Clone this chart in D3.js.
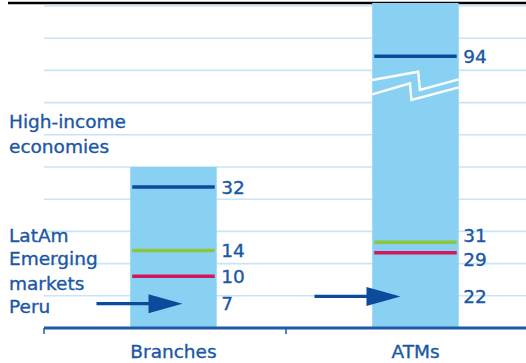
<!DOCTYPE html>
<html><head><meta charset="utf-8">
<script src="https://cdn.jsdelivr.net/npm/d3@7"></script>
<style>body{margin:0;background:#fff;} svg{display:block;font-family:"DejaVu Sans",sans-serif;} svg text{stroke:#1b57a6;stroke-width:0.35px;}</style>
</head><body><svg id="c" width="526" height="363"></svg>
<script>
// ---- data ----
const categories = ["Branches", "ATMs"];
const seriesNames = ["High-income economies", "LatAm", "Emerging markets", "Peru"];
const highIncome = [32, 94];
const latAm = [14, 31];
const emerging = [10, 29];
const peru = [7, 22];
const legendLines = [["High-income", "economies"], ["LatAm"], ["Emerging", "markets"], ["Peru"]];
// value-axis extents per category (ATMs axis is broken between 80 and 90)
const branchDomain = [5.1, 41.5];
const atmDomain = [18, 80, 90, 104];
const gridTicks = d3.range(1, 11);

// ---- layout / style ----
const W = 526, H = 363;
const left = 44, right = 526, base = 328, gridTop = 6, plotTop = 3;
const fs = 18.5;
const textCol = "#1b57a6", navy = "#0c4b9b", green = "#8cc63e", pink = "#d0185c";
const barCol = "#89d1f2", gridCol = "#c6e6f7", axisCol = "#1f5aa8";
const legendBase = [128.3, 241.7, 265, 313], legendLH = 24.5;
const arrowTipOffset = [9, -15];

const svg = d3.select("#c");
const grid = d3.scaleLinear().domain([0, 10]).range([base, gridTop]);
const yScales = {
  Branches: d3.scaleLog().domain(branchDomain).range([grid(0), grid(5)]),
  ATMs: d3.scaleLog().domain(atmDomain).range([grid(0), grid(7.3), grid(7.73), plotTop])
};
const x = d3.scaleBand().domain(categories).range([left, 528]);
const barW = 86.5;
const xc = c => x(c) + x.bandwidth() * 0.535;

// top rule
svg.append("line").attr("x1", 8).attr("x2", W).attr("y1", 3).attr("y2", 3)
  .attr("stroke", "#000").attr("stroke-width", 2.5);

// gridlines
svg.append("g").selectAll("line").data(gridTicks).join("line")
  .attr("x1", left).attr("x2", right)
  .attr("y1", d => grid(d)).attr("y2", d => grid(d))
  .attr("stroke", gridCol).attr("stroke-width", 1.6);

const seriesDefs = [
  {name: seriesNames[0], vals: highIncome, color: navy},
  {name: seriesNames[1], vals: latAm, color: green},
  {name: seriesNames[2], vals: emerging, color: pink}
];

categories.forEach((c, i) => {
  const y = yScales[c];
  const dom = y.domain();
  const bx = xc(c) - barW / 2;
  const top = y(dom[dom.length - 1]);
  svg.append("rect").attr("x", bx).attr("y", top).attr("width", barW)
    .attr("height", y(dom[0]) - top).attr("fill", barCol);

  // axis break symbol
  if (dom.length === 4) {
    const yb = (y(dom[1]) + y(dom[2])) / 2;
    const up = [[0, -6], [46, -14.3], [47.7, 4], [barW, -6.7]];
    const lo = [[0, 8.3], [37.7, -2.7], [39.3, 14], [barW, 1.3]];
    [up, lo].forEach(p => {
      svg.append("path").attr("d", d3.line()(p.map(q => [bx + q[0], yb + q[1]])))
        .attr("fill", "none").attr("stroke", "#fff").attr("stroke-width", 2.4);
    });
  }

  seriesDefs.forEach(s => {
    svg.append("line").attr("x1", bx + 2).attr("x2", bx + barW - 2)
      .attr("y1", y(s.vals[i])).attr("y2", y(s.vals[i]))
      .attr("stroke", s.color).attr("stroke-width", 3.5);
  });

  // Peru arrow
  const ay = y(peru[i]);
  const tip = xc(c) + arrowTipOffset[i];
  const headL = 34, shaftL = 86, hh = 9.5;
  svg.append("line").attr("x1", tip - shaftL).attr("x2", tip - headL + 2)
    .attr("y1", ay).attr("y2", ay).attr("stroke", navy).attr("stroke-width", 3.2);
  svg.append("path").attr("d", d3.line()([[tip, ay], [tip - headL, ay - hh], [tip - headL, ay + hh]]) + "Z")
    .attr("fill", navy);

  // value labels with overlap avoidance
  const items = [...seriesDefs.map(s => s.vals[i]), peru[i]].map(v => ({v, y: y(v)}))
    .sort((a, b) => a.y - b.y);
  const gap = 24;
  for (let k = 0; k < 60; k++) {
    for (let j = 1; j < items.length; j++) {
      const d = gap - (items[j].y - items[j - 1].y);
      if (d > 0) { items[j - 1].y -= d / 2; items[j].y += d / 2; }
    }
  }
  svg.append("g").selectAll("text").data(items).join("text")
    .attr("x", bx + barW + 4.5).attr("y", d => d.y).attr("dy", "0.36em")
    .attr("font-size", fs).attr("fill", textCol).text(d => d.v);

  // category label
  svg.append("text").attr("x", xc(c)).attr("y", 358).attr("text-anchor", "middle")
    .attr("font-size", fs).attr("fill", textCol).text(c);

  // tick
  svg.append("line").attr("x1", x(c)).attr("x2", x(c)).attr("y1", base).attr("y2", base + 6)
    .attr("stroke", axisCol).attr("stroke-width", 1.5);
});

// baseline axis
svg.append("line").attr("x1", left).attr("x2", right).attr("y1", base).attr("y2", base)
  .attr("stroke", axisCol).attr("stroke-width", 3);

// legend labels
legendLines.forEach((lines, i) => {
  const t = svg.append("text").attr("x", 9).attr("y", legendBase[i])
    .attr("font-size", fs).attr("fill", textCol);
  lines.forEach((l, j) => t.append("tspan").attr("x", 9).attr("y", legendBase[i] + j * legendLH).text(l));
});
</script></body></html>
